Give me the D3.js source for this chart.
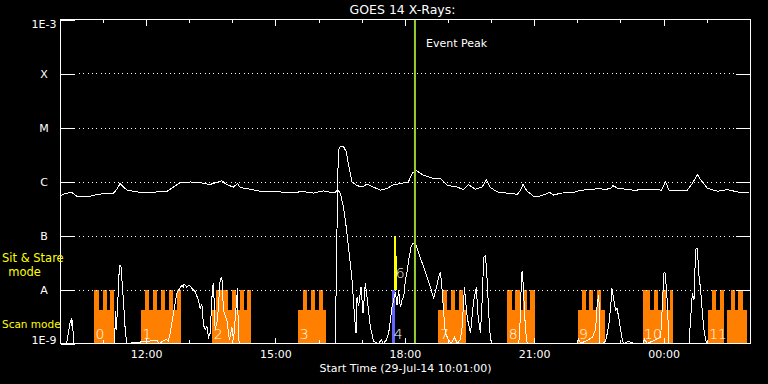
<!DOCTYPE html>
<html>
<head>
<meta charset="utf-8">
<script src="https://cdn.jsdelivr.net/npm/d3@7"></script>
<style>
  body { margin: 0; background: #000; }
  svg { display: block; }
  text { font-family: "DejaVu Sans", sans-serif; }
</style>
</head>
<body>
<div id="container"></div>
<script>

// times are decimal hours counted from 29-Jul-14 00:00 (values > 24 = next day)
const startHour = 10 + 1 / 60;
const endHour = 26 + 1 / 60;
const peakHour = 18.236;

// flux levels (W/m^2) shown on the y axis
const levels = [1e-3, 1e-4, 1e-5, 1e-6, 1e-7, 1e-8, 1e-9];
const levelLabels = ["1E-3", "X", "M", "C", "B", "A", "1E-9"];
const gridLevels = [1e-4, 1e-5, 1e-6, 1e-7, 1e-8];

// GOES 14 1-8 A channel [hour, flux]
const longChannel = [
  [10.017,5.5e-7],[10.121,6.0e-7],[10.277,6.25e-7],[10.400,5.3e-7],[10.625,5.2e-7],
  [10.857,5.7e-7],[11.050,6.0e-7],[11.242,6.1e-7],[11.328,7.2e-7],[11.398,9.2e-7],
  [11.468,8.0e-7],[11.561,6.9e-7],[11.793,6.4e-7],[12.025,6.3e-7],[12.257,6.4e-7],
  [12.489,6.6e-7],[12.628,7.8e-7],[12.791,9.5e-7],[13.023,9.8e-7],[13.255,9.5e-7],
  [13.487,8.8e-7],[13.626,9.6e-7],[13.759,1.03e-6],[13.875,8.7e-7],[14.028,7.9e-7],
  [14.121,9.2e-7],[14.184,7.7e-7],[14.416,7.2e-7],[14.648,6.6e-7],[14.880,6.4e-7],
  [15.112,6.4e-7],[15.344,6.2e-7],[15.646,6.5e-7],[15.878,6.1e-7],[16.110,6.7e-7],
  [16.226,6.4e-7],[16.389,6.3e-7],[16.435,6.9e-7],[16.465,3.8e-6],[16.505,4.5e-6],
  [16.581,4.4e-6],[16.644,3.55e-6],[16.697,2.0e-6],[16.776,9.8e-7],[16.892,8.4e-7],
  [17.015,7.9e-7],[17.131,9.0e-7],[17.271,7.9e-7],[17.433,6.9e-7],[17.589,7.4e-7],
  [17.705,8.5e-7],[17.898,9.2e-7],[18.083,9.8e-7],[18.176,1.43e-6],[18.269,1.59e-6],
  [18.431,1.31e-6],[18.664,1.14e-6],[18.826,1.13e-6],[18.982,8.5e-7],[19.214,7.9e-7],
  [19.360,7.1e-7],[19.476,8.7e-7],[19.639,7.2e-7],[19.794,7.9e-7],[19.894,1.08e-6],
  [19.987,7.7e-7],[20.149,6.4e-7],[20.451,6.0e-7],[20.613,5.8e-7],[20.683,6.9e-7],
  [20.741,8.8e-7],[20.838,6.6e-7],[20.992,5.3e-7],[21.108,5.3e-7],[21.303,6.0e-7],
  [21.340,6.4e-7],[21.456,5.6e-7],[21.612,6.1e-7],[21.913,6.25e-7],[22.076,6.9e-7],
  [22.377,7.1e-7],[22.501,7.6e-7],[22.617,7.1e-7],[22.772,7.4e-7],[22.825,8.4e-7],
  [22.935,7.5e-7],[23.306,6.9e-7],[23.770,7.2e-7],[23.949,6.9e-7],[24.049,9.9e-7],
  [24.126,6.9e-7],[24.358,6.7e-7],[24.553,6.9e-7],[24.669,9.2e-7],[24.785,1.35e-6],
  [24.861,1.08e-6],[25.017,7.5e-7],[25.249,6.6e-7],[25.481,7.1e-7],[25.713,6.4e-7],
  [26.017,6.1e-7]
];

// GOES 14 0.5-4 A channel [hour, flux]
const shortChannel = [
  [10.017,1e-9],[10.156,1e-9],[10.202,1.6e-9],[10.244,2.6e-9],[10.265,2.8e-9],
  [10.284,2.1e-9],[10.298,2.7e-9],[10.318,1e-9],[11.270,1e-9],[11.293,4.0e-9],
  [11.312,1.8e-9],[11.333,3.8e-9],[11.358,9.8e-9],[11.382,2.7e-8],[11.405,2.8e-8],
  [11.421,2.6e-8],[11.475,6.4e-9],[11.514,2.0e-9],[11.549,1e-9],[12.257,1.15e-9],
  [12.303,1e-9],[12.466,1.2e-9],[12.512,1.1e-9],[12.559,1.55e-9],[12.635,3.6e-9],
  [12.714,8.6e-9],[12.830,1.2e-8],[12.860,1.1e-8],[12.884,1.26e-8],[12.946,1.1e-8],
  [12.999,1.2e-8],[13.062,1.06e-8],[13.139,9.1e-9],[13.215,6.4e-9],[13.255,4.5e-9],
  [13.294,5.4e-9],[13.332,2.2e-9],[13.371,1.8e-9],[13.411,2.1e-9],[13.448,1.3e-9],
  [13.487,1.55e-9],[13.541,1.1e-8],[13.564,1.3e-8],[13.603,1.8e-9],[13.657,2.7e-9],
  [13.719,1.5e-8],[13.759,1.7e-8],[13.796,4.1e-9],[13.875,2.7e-9],[13.935,1.15e-9],
  [13.991,2.0e-9],[14.028,1.15e-9],[14.102,6.4e-9],[14.121,1.06e-8],[14.144,1.15e-9],
  [14.184,1e-9],[16.389,1e-9],[16.442,7.0e-7],[16.505,6.1e-7],[16.582,3.2e-7],
  [16.644,1.4e-7],[16.721,4.0e-8],[16.777,1.5e-8],[16.830,3.6e-9],[16.869,1.55e-9],
  [16.893,7.3e-9],[16.930,4.9e-9],[16.985,1.1e-8],[17.032,3.6e-9],[17.085,1.3e-8],
  [17.125,7.3e-9],[17.201,2.0e-9],[17.278,1.1e-9],[17.387,1e-9],[17.457,1.15e-9],
  [17.503,1e-9],[17.573,1.15e-9],[17.626,1.55e-9],[17.665,2.7e-9],[17.705,4.8e-9],
  [17.742,6.4e-9],[17.782,9.0e-9],[17.821,5.1e-9],[17.858,9.8e-9],[17.898,4.7e-9],
  [17.937,6.4e-9],[17.975,7.3e-9],[18.014,1.5e-8],[18.053,2.1e-8],[18.090,3.5e-8],
  [18.146,6.2e-8],[18.193,7.2e-8],[18.246,7.0e-8],[18.299,5.4e-8],[18.362,3.8e-8],
  [18.438,2.6e-8],[18.517,1.7e-8],[18.594,1.1e-8],[18.671,6.9e-9],[18.710,9.0e-9],
  [18.787,1.7e-8],[18.826,2.1e-8],[18.866,9.8e-9],[18.903,3.6e-9],[18.942,1.55e-9],
  [19.019,1.15e-9],[19.081,1e-9],[19.151,1.3e-9],[19.221,1e-9],[19.290,1.2e-9],
  [19.330,2.0e-9],[19.383,1.1e-8],[19.430,4.1e-9],[19.460,2.7e-9],[19.523,1.55e-9],
  [19.599,6.4e-9],[19.662,1.1e-8],[19.692,3.6e-9],[19.755,1.55e-9],[19.794,6.4e-9],
  [19.831,4.0e-8],[19.871,4.3e-8],[19.910,1.5e-8],[19.947,3.6e-9],[19.987,1.15e-9],
  [20.026,1e-9],[20.644,1e-9],[20.660,1.55e-9],[20.683,3.6e-9],[20.706,2.0e-8],
  [20.730,2.1e-8],[20.760,7.3e-9],[20.799,1.8e-9],[20.839,1e-9],[22.000,1e-9],
  [22.030,1.2e-9],[22.076,1e-9],[22.232,1.15e-9],[22.348,1.3e-9],[22.424,1.8e-9],
  [22.464,5.6e-9],[22.501,7.9e-9],[22.524,1e-9],[22.580,1e-9],[22.656,1.1e-9],
  [22.696,1.55e-9],[22.733,2.3e-9],[22.772,4.5e-9],[22.803,1.05e-8],[22.849,6.4e-9],
  [22.888,4.1e-9],[22.923,4.5e-9],[22.965,2.9e-9],[23.004,1.8e-9],[23.044,1.15e-9],
  [23.074,1e-9],[23.190,1.1e-9],[23.306,1e-9],[23.515,1e-9],[23.562,1.2e-9],
  [23.624,1e-9],[23.933,1.3e-9],[23.972,4.8e-9],[24.009,2.0e-8],[24.032,2.1e-8],
  [24.072,9.8e-9],[24.095,4.1e-9],[24.125,1e-9],[24.590,1e-9],[24.629,2.9e-9],
  [24.668,8.6e-9],[24.706,6.4e-9],[24.745,5.6e-8],[24.784,5.8e-8],[24.822,1.8e-8],
  [24.861,9.8e-9],[24.901,3.6e-9],[24.938,1.8e-9],[24.977,1.15e-9],[25.017,1e-9],
  [26.017,1e-9]
];

// observation blocks: [start hour, end hour]
const scanLevel = 4.2e-9;
const stareLevel = 1e-8;
const scanBlocks = [
  [10.794,11.266],[11.885,12.814],[13.534,14.432],[15.530,16.180],[18.780,19.430],
  [20.374,21.031],[22.007,22.633],[23.515,24.228],[25.024,25.403],[25.465,25.930]
];
const stareBlocks = [
  [10.794,10.911],[10.996,11.089],[11.166,11.266],
  [11.978,12.071],[12.171,12.264],[12.357,12.450],[12.542,12.635],[12.714,12.814],
  [13.626,13.905],[13.986,14.079],[14.172,14.265],[14.339,14.432],
  [15.630,15.723],[15.815,15.908],[16.001,16.094],
  [18.889,18.982],[19.075,19.167],[19.260,19.353],
  [20.374,20.490],[20.567,20.667],[20.746,20.839],[20.915,21.031],
  [22.099,22.192],[22.278,22.371],[22.455,22.547],
  [23.515,23.689],[23.777,23.870],[23.963,24.056],[24.142,24.228],
  [25.117,25.216],[25.303,25.403],[25.558,25.651],[25.737,25.837]
];
const blockNames = ["0", "1", "2", "3", "4", "7", "8", "9", "10", "11"];
const blockNameHours = [10.794, 11.885, 13.534, 15.530, 17.712, 18.780, 20.374, 22.007, 23.515, 25.024];

// the two short bars near 18:00: [start, end, low flux, high flux]
const blueBars = [[17.712, 17.782, 1e-9, 1e-8]];
const yellowBars = [[17.758, 17.806, 1e-8, 1e-7], [17.758, 17.828, 1e-8, 4.1e-8]];
const yellowName = "6";
const yellowNameHour = 17.758;

const width = 768;
const height = 384;
const plotLeft = 60.5, plotRight = 750.5, plotTop = 19.5, plotBottom = 343.5;

const day0 = new Date(2014, 6, 29);
const toDate = h => new Date(day0.getTime() + h * 3600e3);

const x = d3.scaleTime()
    .domain([toDate(startHour), toDate(endHour)])
    .range([plotLeft, plotRight]);

const y = d3.scaleLog()
    .domain([1e-9, 1e-3])
    .range([plotBottom, plotTop])
    .clamp(true);

const svg = d3.select("#container").append("svg")
    .attr("width", width)
    .attr("height", height)
    .attr("viewBox", [0, 0, width, height])
    .style("background", "#000");

// orange blocks
svg.append("g")
    .attr("fill", "#ff8000")
    .attr("shape-rendering", "crispEdges")
  .selectAll("rect")
  .data(scanBlocks.map(d => [d[0], d[1], 1e-9, scanLevel])
      .concat(stareBlocks.map(d => [d[0], d[1], 1e-9, stareLevel])))
  .join("rect")
    .attr("x", d => x(toDate(d[0])))
    .attr("width", d => x(toDate(d[1])) - x(toDate(d[0])))
    .attr("y", d => y(d[3]))
    .attr("height", d => y(d[2]) - y(d[3]));

svg.append("g")
    .attr("fill", "#6464ff")
    .attr("shape-rendering", "crispEdges")
  .selectAll("rect")
  .data(blueBars)
  .join("rect")
    .attr("x", d => x(toDate(d[0])))
    .attr("width", d => x(toDate(d[1])) - x(toDate(d[0])))
    .attr("y", d => y(d[3]))
    .attr("height", d => y(d[2]) - y(d[3]));

svg.append("g")
    .attr("fill", "#ffff00")
    .attr("shape-rendering", "crispEdges")
  .selectAll("rect")
  .data(yellowBars)
  .join("rect")
    .attr("x", d => x(toDate(d[0])))
    .attr("width", d => x(toDate(d[1])) - x(toDate(d[0])))
    .attr("y", d => y(d[3]))
    .attr("height", d => y(d[2]) - y(d[3]));

// block numbers
svg.append("g")
    .attr("fill", "#fff")
    .attr("font-size", 14)
    .attr("font-weight", 200)
  .selectAll("text")
  .data(blockNames)
  .join("text")
    .attr("x", (d, i) => x(toDate(blockNameHours[i])) + 1.5)
    .attr("y", y(1e-9) - 4.5)
    .text(d => d);

svg.append("text")
    .attr("fill", "#fff")
    .attr("font-size", 14)
    .attr("font-weight", 200)
    .attr("x", x(toDate(yellowNameHour)) + 1.5)
    .attr("y", y(stareLevel) - 11.5)
    .text(yellowName);

// dotted grid
svg.append("g")
    .attr("stroke", "#fff")
    .attr("stroke-dasharray", "1,3.33")
    .attr("shape-rendering", "crispEdges")
  .selectAll("line")
  .data(gridLevels)
  .join("line")
    .attr("x1", plotLeft + 18.5)
    .attr("x2", plotRight - 17)
    .attr("y1", d => Math.round(y(d)) + 0.5)
    .attr("y2", d => Math.round(y(d)) + 0.5);

// flux curves
const line = d3.line()
    .x(d => x(toDate(d[0])))
    .y(d => y(d[1]));

svg.append("g")
    .attr("fill", "none")
    .attr("stroke", "#fff")
    .attr("stroke-width", 1)
    .attr("shape-rendering", "crispEdges")
  .selectAll("path")
  .data([shortChannel, longChannel])
  .join("path")
    .attr("d", line);

// event peak marker
const xPeak = x(toDate(peakHour));
svg.append("line")
    .attr("x1", xPeak).attr("x2", xPeak)
    .attr("y1", plotTop).attr("y2", plotBottom)
    .attr("stroke", "#9acd32")
    .attr("stroke-width", 2);

svg.append("text")
    .attr("x", xPeak + 11)
    .attr("y", 47)
    .attr("fill", "#fff")
    .attr("font-size", 11)
    .text("Event Peak");

// axes
function styleAxis(g) {
  g.attr("color", "#fff");
  g.select(".domain").remove();
  g.selectAll("line").attr("stroke", "#fff").attr("shape-rendering", "crispEdges");
  g.selectAll("text").attr("fill", "#fff").attr("font-family", "DejaVu Sans, sans-serif").attr("font-size", 11);
}

svg.append("g")
    .attr("transform", `translate(0,${plotBottom})`)
    .call(d3.axisBottom(x).ticks(d3.timeHour.every(3)).tickSize(-6).tickPadding(7)
      .tickFormat(d3.timeFormat("%H:%M")))
    .call(styleAxis);

svg.append("g")
    .attr("transform", `translate(0,${plotBottom})`)
    .call(d3.axisBottom(x).ticks(d3.timeHour.every(1)).tickSize(-3.5).tickFormat(""))
    .call(styleAxis);

svg.append("g")
    .attr("transform", `translate(0,${plotTop})`)
    .call(d3.axisTop(x).ticks(d3.timeHour.every(3)).tickSize(-6).tickFormat(""))
    .call(styleAxis);

svg.append("g")
    .attr("transform", `translate(0,${plotTop})`)
    .call(d3.axisTop(x).ticks(d3.timeHour.every(1)).tickSize(-3.5).tickFormat(""))
    .call(styleAxis);

svg.append("g")
    .attr("transform", `translate(${plotLeft},0)`)
    .call(d3.axisLeft(y).tickValues(levels).tickSize(-14.5).tickFormat((d, i) => levelLabels[i]))
    .call(styleAxis)
    .call(g => g.selectAll("text")
        .attr("text-anchor", "middle")
        .attr("x", -16.5)
        .attr("dy", (d, i) => i === 0 ? "0.73em" : i === levels.length - 1 ? "0em" : "0.4em"));

svg.append("g")
    .attr("transform", `translate(${plotRight},0)`)
    .call(d3.axisRight(y).tickValues(gridLevels).tickSize(-14.5).tickFormat(""))
    .call(styleAxis);

// frame
svg.append("rect")
    .attr("x", plotLeft).attr("y", plotTop)
    .attr("width", plotRight - plotLeft).attr("height", plotBottom - plotTop)
    .attr("fill", "none")
    .attr("stroke", "#fff")
    .attr("shape-rendering", "crispEdges");

// titles
svg.append("text")
    .attr("x", (plotLeft + plotRight) / 2 - 3)
    .attr("y", 13.5)
    .attr("text-anchor", "middle")
    .attr("fill", "#fff")
    .attr("font-size", 12.5)
    .text("GOES 14 X-Rays:");

svg.append("text")
    .attr("x", (plotLeft + plotRight) / 2)
    .attr("y", 372)
    .attr("text-anchor", "middle")
    .attr("fill", "#fff")
    .attr("font-size", 11)
    .text("Start Time (29-Jul-14 10:01:00)");

// mode labels
const modes = svg.append("g").attr("fill", "#ffff00");
modes.append("text").attr("x", 2).attr("y", 261.5).attr("font-size", 11.5).text("Sit & Stare");
modes.append("text").attr("x", 24.5).attr("y", 276).attr("font-size", 11.5).attr("text-anchor", "middle").text("mode");
modes.append("text").attr("x", 2).attr("y", 327.5).attr("font-size", 10.5).text("Scan mode");

</script>
</body>
</html>
